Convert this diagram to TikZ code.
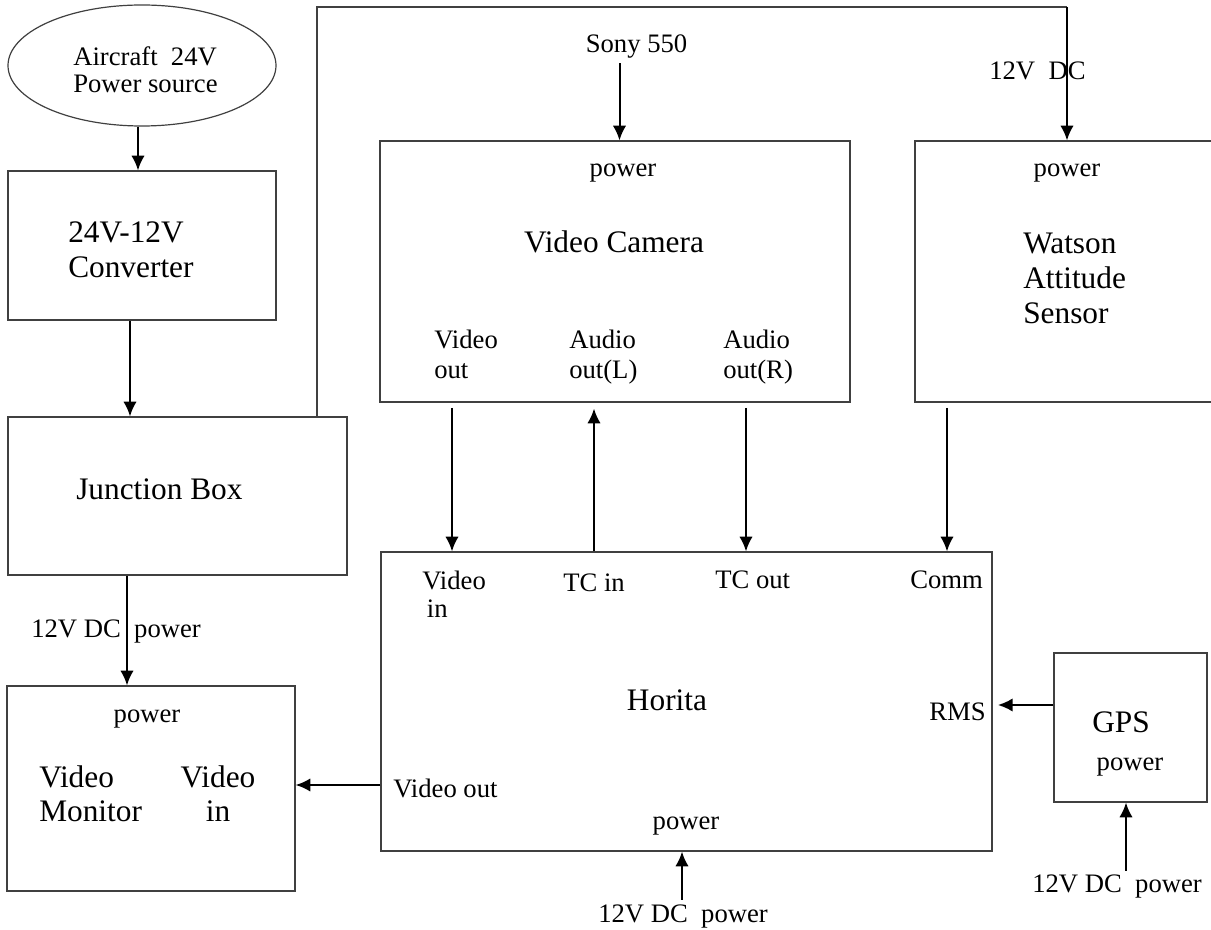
\documentclass[tikz,border=0pt]{standalone}
\usepackage{fontspec}
\setmainfont{Liberation Serif}
\usetikzlibrary{arrows.meta,shapes.geometric}

\tikzset{
	box/.style={draw=black!75, line width=0.9pt, inner sep=0pt},
	lbl/.style={font=\fontsize{20}{22.5}\selectfont, inner sep=0pt},
	big/.style={font=\fontsize{23.5}{26.25}\selectfont, inner sep=0pt},
	wire/.style={->, line width=1.5pt},
}

\begin{document}
\begin{tikzpicture}[>={Latex[length=11pt,width=10pt]}, x=0.75pt, y=-0.75pt]
	\useasboundingbox (0,0) rectangle (1211,930);
	
	% blocks
	\node[box, ellipse, minimum width=201pt, minimum height=90.75pt] (src) at (142,65.5) {};
	\node[box, minimum width=201pt, minimum height=111.75pt] (conv) at (142,245.5) {};
	\node[box, minimum width=254.25pt, minimum height=118.5pt] (jbox) at (177.5,496) {};
	\node[box, minimum width=216pt, minimum height=153.75pt] (mon) at (151,788.5) {};
	\node[box, minimum width=352.5pt, minimum height=195.75pt] (cam) at (615,271.5) {};
	\node[box, minimum width=223.5pt, minimum height=195.75pt] (was) at (1064,271.5) {};
	\node[box, minimum width=458.25pt, minimum height=224.25pt] (hor) at (686.5,701.5) {};
	\node[box, minimum width=114.75pt, minimum height=111.75pt] (gps) at (1130.5,727.5) {};
	
	% texts (multi-line ones sit on their last baseline)
	\node[lbl, anchor=base west, align=left, font=\fontsize{20}{20.25}\selectfont] (srcT) at (73,93) {Aircraft\ \ 24V\\Power source};
	\node[big, anchor=base west, align=left] (convT) at (68,278) {24V-12V\\Converter};
	\node[big, anchor=base west] (jboxT) at (76,500) {Junction Box};
	\node[lbl, anchor=base west] (jmonT) at (31,638) {12V DC\ \ power};
	\node[lbl, anchor=base] (monP) at (147,722) {power};
	\node[big, anchor=base west, align=left, font=\fontsize{23.5}{25.5}\selectfont] (monT) at (39,821) {Video\\Monitor};
	\node[big, anchor=base, align=center, font=\fontsize{23.5}{25.5}\selectfont] (monIn) at (218,821) {Video\\in};
	
	\node[lbl, anchor=base] (sony) at (636.5,53) {Sony 550};
	\node[lbl, anchor=base west] (wasDC) at (989,80) {12V\ \ DC};
	\node[lbl, anchor=base] (camP) at (623,177) {power};
	\node[big, anchor=base] (camT) at (614,253) {Video Camera};
	\node[lbl, anchor=base west, align=left] (camVo) at (434,379) {Video\\out};
	\node[lbl, anchor=base west, align=left] (camAl) at (569,379) {Audio\\out(L)};
	\node[lbl, anchor=base west, align=left] (camAr) at (723,379) {Audio\\out(R)};
	\node[lbl, anchor=base] (wasP) at (1067,177) {power};
	\node[big, anchor=base west, align=left] (wasT) at (1023,324) {Watson\\Attitude\\Sensor};
	
	\node[lbl, anchor=base west, align=left, font=\fontsize{20}{21}\selectfont] (horVi) at (422,618) {Video\\\hspace*{3.5pt}in};
	\node[lbl, anchor=base west] (horTCi) at (563,591) {TC in};
	\node[lbl, anchor=base west] (horTCo) at (715,589) {TC out};
	\node[lbl, anchor=base west] (horCm) at (910,589) {Comm};
	\node[big, anchor=base] (horT) at (667,710) {Horita};
	\node[lbl, anchor=base west] (horRms) at (929,720) {RMS};
	\node[lbl, anchor=base west] (horVo) at (393,797) {Video out};
	\node[lbl, anchor=base] (horP) at (686,829) {power};
	\node[big, anchor=base] (gpsT) at (1121,732) {GPS};
	\node[lbl, anchor=base] (gpsP) at (1130,770) {power};
	\node[lbl, anchor=base west] (gpsDC) at (1032,892) {12V DC\ \ power};
	\node[lbl, anchor=base west] (horDC) at (598,922) {12V DC\ \ power};
	
	% power feed over the top
	\coordinate (c1) at (317,7);
	\coordinate (c2) at (1067,7);
	\draw[line width=0.9pt, draw=black!75] (jbox.north -| c1) -- (c1) -- (c2);
	\draw[wire] (c2) -- (c2 |- was.north);
	
	% connections
	\draw[wire] ([shift={(-4,0)}]src.south) coordinate (v0) -- (v0 |- conv.north);
	\draw[wire] ([shift={(-12,0)}]conv.south) coordinate (v1) -- (v1 |- jbox.north);
	\draw[wire] ([shift={(-50.5,0)}]jbox.south) coordinate (v2) -- (v2 |- mon.north);
	\draw[wire] ([shift={(-17,4)}]sony.south) coordinate (v3) -- (v3 |- cam.north);
	\draw[wire, shorten <=4pt] ([shift={(-163,0)}]cam.south) coordinate (v4) -- (v4 |- hor.north);
	\draw[wire, shorten >=4.5pt] ([shift={(-92.5,0)}]hor.north) coordinate (v5) -- (v5 |- cam.south);
	\draw[wire, shorten <=4pt] ([shift={(131,0)}]cam.south) coordinate (v6) -- (v6 |- hor.north);
	\draw[wire, shorten <=4pt] ([shift={(-117,0)}]was.south) coordinate (v7) -- (v7 |- hor.north);
	\draw[wire] ([shift={(0,83.5)}]hor.west) coordinate (v8) -- (v8 -| mon.east);
	\draw[wire, shorten >=4pt] ([shift={(0,-22.5)}]gps.west) coordinate (v9) -- (v9 -| hor.east);
	\draw[wire] ([shift={(-4.5,48)}]hor.south) coordinate (v10) -- (v10 |- hor.south);
	\draw[wire] ([shift={(-4.5,68)}]gps.south) coordinate (v11) -- (v11 |- gps.south);
\end{tikzpicture}
\end{document}
